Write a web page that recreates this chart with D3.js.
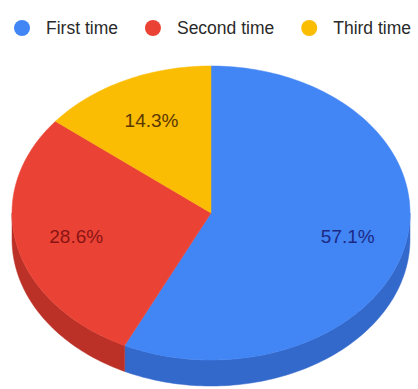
<!DOCTYPE html>
<html>
<head>
<meta charset="utf-8">
<script src="https://cdn.jsdelivr.net/npm/d3@7"></script>
<style>
  html, body { margin: 0; padding: 0; background: #fff; }
  svg { display: block; font-family: Arial, "Liberation Sans", sans-serif; }
</style>
</head>
<body>
<svg id="chart" width="418" height="389"></svg>
<script>
// data
const categories = ['First time', 'Second time', 'Third time']
const counts = [4, 2, 1]
const topColors = ['#4285f4', '#ea4335', '#fbbc04']
const sideColors = ['#3469cc', '#bb3127', '#c99400']
const labelColors = ['#1c2a86', '#8a1414', '#5a3800']

const cx = 211
const cy = 213
const rx = 199
const ry = 147
const depth = 26

const svg = d3.select('#chart')

const color = d3.scaleOrdinal().domain(categories).range(topColors)
const sideColor = d3.scaleOrdinal().domain(categories).range(sideColors)
const labelColor = d3.scaleOrdinal().domain(categories).range(labelColors)

const data = categories.map((c, i) => ({ name: c, value: counts[i] }))
const total = d3.sum(counts)
const pie = d3.pie().value(d => d.value).sort(null)
const arcs = pie(data)

// angle a is measured clockwise from 12 o'clock like d3.pie
const px = a => cx + rx * Math.sin(a)
const py = a => cy - ry * Math.cos(a)

const line = d3.line()

function sampleArc (a0, a1, dy) {
  const n = Math.max(2, Math.ceil(Math.abs(a1 - a0) / 0.02))
  return d3.range(n + 1).map(k => {
    const a = a0 + (a1 - a0) * k / n
    return [px(a), py(a) + dy]
  })
}

// side walls (only the front half, PI/2 .. 3PI/2, is visible)
const gSide = svg.append('g').attr('class', 'sides')
arcs.forEach(d => {
  const a0 = Math.max(d.startAngle, Math.PI / 2)
  const a1 = Math.min(d.endAngle, Math.PI * 3 / 2)
  if (a1 <= a0) return
  const pts = sampleArc(a0, a1, 0).concat(sampleArc(a1, a0, depth))
  gSide.append('path')
    .attr('d', line(pts) + 'Z')
    .attr('fill', sideColor(d.data.name))
    .attr('stroke', sideColor(d.data.name))
    .attr('stroke-width', 0.5)
})

// top faces
const gTop = svg.append('g').attr('class', 'tops')
arcs.forEach(d => {
  const pts = [[cx, cy]].concat(sampleArc(d.startAngle, d.endAngle, 0))
  gTop.append('path')
    .attr('d', line(pts) + 'Z')
    .attr('fill', color(d.data.name))
    .attr('stroke', color(d.data.name))
    .attr('stroke-width', 0.5)
})

// percentage labels
arcs.forEach(d => {
  const mid = (d.startAngle + d.endAngle) / 2
  const k = 0.7
  const lx = cx + rx * k * Math.sin(mid)
  const ly = cy - ry * k * Math.cos(mid)
  svg.append('text')
    .attr('x', lx + 1)
    .attr('y', ly + 7)
    .attr('text-anchor', 'middle')
    .attr('font-size', 19)
    .attr('fill', labelColor(d.data.name))
    .text((100 * d.value / total).toFixed(1) + '%')
})

// legend
const legend = svg.append('g').attr('class', 'legend')
let x = 14
categories.forEach(c => {
  const item = legend.append('g')
  item.append('circle')
    .attr('cx', x + 8)
    .attr('cy', 28)
    .attr('r', 8)
    .attr('fill', color(c))
  const t = item.append('text')
    .attr('x', x + 32)
    .attr('y', 34)
    .attr('font-size', 17.5)
    .attr('fill', '#2a2a2a')
    .text(c)
  x += 32 + t.node().getComputedTextLength() + 27
})
</script>
</body>
</html>
